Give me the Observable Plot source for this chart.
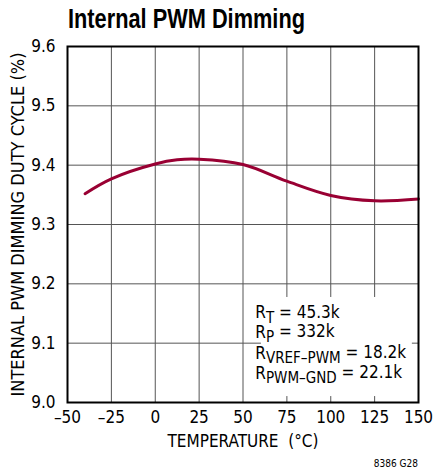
<!DOCTYPE html>
<html>
<head>
<meta charset="utf-8">
<script src="https://cdn.jsdelivr.net/npm/d3@7"></script>
<script src="https://cdn.jsdelivr.net/npm/@observablehq/plot@0.6"></script>
<style>
  html, body { margin: 0; padding: 0; background: #fff; }
  body { width: 433px; height: 472px; position: relative; overflow: hidden; font-family: "DejaVu Sans Condensed", "Liberation Sans", sans-serif; }
  #title { height: 36px; box-sizing: border-box; padding-left: 68px; padding-top: 4px; line-height: 30px; color: #000; white-space: nowrap; }
  #title span { display: inline-block; font-family: "Liberation Sans", Arial, sans-serif; font-size: 27px; font-weight: bold; transform-origin: 0 50%; }
  #caption { position: absolute; right: 15px; top: 458px; font-size: 10px; color: #000; }
  svg { display: block; overflow: visible; }
</style>
</head>
<body>
<div id="title"><span>Internal PWM Dimming</span></div>
<div id="chart"></div>
<div id="caption">8386 G28</div>
<script>
// Data
const temperature = [-40, -25, 0, 12.5, 25, 50, 75, 100, 125, 150];
const dutyCycle   = [9.352, 9.377, 9.402, 9.409, 9.410, 9.401, 9.373, 9.349, 9.340, 9.343];
const xTicks = [-50, -25, 0, 25, 50, 75, 100, 125, 150];
const yTicks = [9.0, 9.1, 9.2, 9.3, 9.4, 9.5, 9.6];
const xLabel = "TEMPERATURE  (°C)";
const yLabel = "INTERNAL PWM DIMMING DUTY CYCLE (%)";
const annotation = [
  {main: "R", sub: "T", rest: " = 45.3k", y: 9.151},
  {main: "R", sub: "P", rest: " = 332k", y: 9.118},
  {main: "R", sub: "VREF–PWM", rest: " = 18.2k", y: 9.083},
  {main: "R", sub: "PWM–GND", rest: " = 22.1k", y: 9.049}
];
const annotationX = 57;
const boxX = [60.5, 146.5];
const boxY = [9.01, 9.177];

const data = temperature.map((t, i) => ({t, v: dutyCycle[i]}));
const font = "DejaVu Sans Condensed, Liberation Sans, sans-serif";

const plot = Plot.plot({
  width: 433,
  height: 419,
  marginTop: 10,
  marginLeft: 67,
  marginRight: 15,
  marginBottom: 53,
  style: {fontFamily: font, fontSize: "17px", color: "#000", background: "#fff", overflow: "visible"},
  x: {domain: [-50, 150], ticks: xTicks},
  y: {domain: [9.0, 9.6], ticks: yTicks},
  marks: [
    Plot.gridX(xTicks, {stroke: "#555", strokeOpacity: 1, strokeWidth: 1}),
    Plot.gridY(yTicks, {stroke: "#555", strokeOpacity: 1, strokeWidth: 1}),
    Plot.rect([0], {x1: boxX[0], x2: boxX[1], y1: boxY[0], y2: boxY[1], fill: "#fff"}),
    Plot.line(data, {x: "t", y: "v", curve: "catmull-rom", stroke: "#990033", strokeWidth: 3}),
    Plot.frame({stroke: "#000", strokeWidth: 2}),
    Plot.axisX(xTicks, {tickSize: 0, tickPadding: 8, label: null, fontSize: 17,
      tickFormat: d => d < 0 ? "–" + (-d) : String(d)}),
    Plot.axisY(yTicks, {tickSize: 0, tickPadding: 12, label: null, fontSize: 17,
      tickFormat: d3.format(".1f")}),
    Plot.text([xLabel], {frameAnchor: "bottom", textAnchor: "middle", dy: 44, text: d => d, fontSize: 17}),
    Plot.text([yLabel], {frameAnchor: "left", textAnchor: "middle", dx: -49, rotate: -90, text: d => d, fontSize: 17}),
    Plot.text(annotation, {x: () => annotationX, y: "y", text: d => d.main + d.sub + d.rest,
      textAnchor: "start", fontSize: 17})
  ]
});

document.getElementById("chart").appendChild(plot);

// Compress the long y label to fit the frame height, like the condensed original
d3.select(plot).selectAll("text").filter(function() { return this.textContent === yLabel; })
  .attr("textLength", 344).attr("lengthAdjust", "spacingAndGlyphs");

// Render subscripts in annotation lines
annotation.forEach(a => {
  d3.select(plot).selectAll("text")
    .filter(function() { return this.textContent === a.main + a.sub + a.rest; })
    .each(function() {
      const t = d3.select(this);
      t.text(null);
      t.append("tspan").text(a.main);
      t.append("tspan").attr("dy", "0.28em").attr("font-size", "15px").text(a.sub);
      t.append("tspan").attr("dy", "-0.28em").text(a.rest);
    });
});

// Condense the title to the width of the original
const ts = document.querySelector("#title span");
const w = ts.getBoundingClientRect().width;
ts.style.transform = `scaleX(${237 / w})`;
</script>
</body>
</html>
